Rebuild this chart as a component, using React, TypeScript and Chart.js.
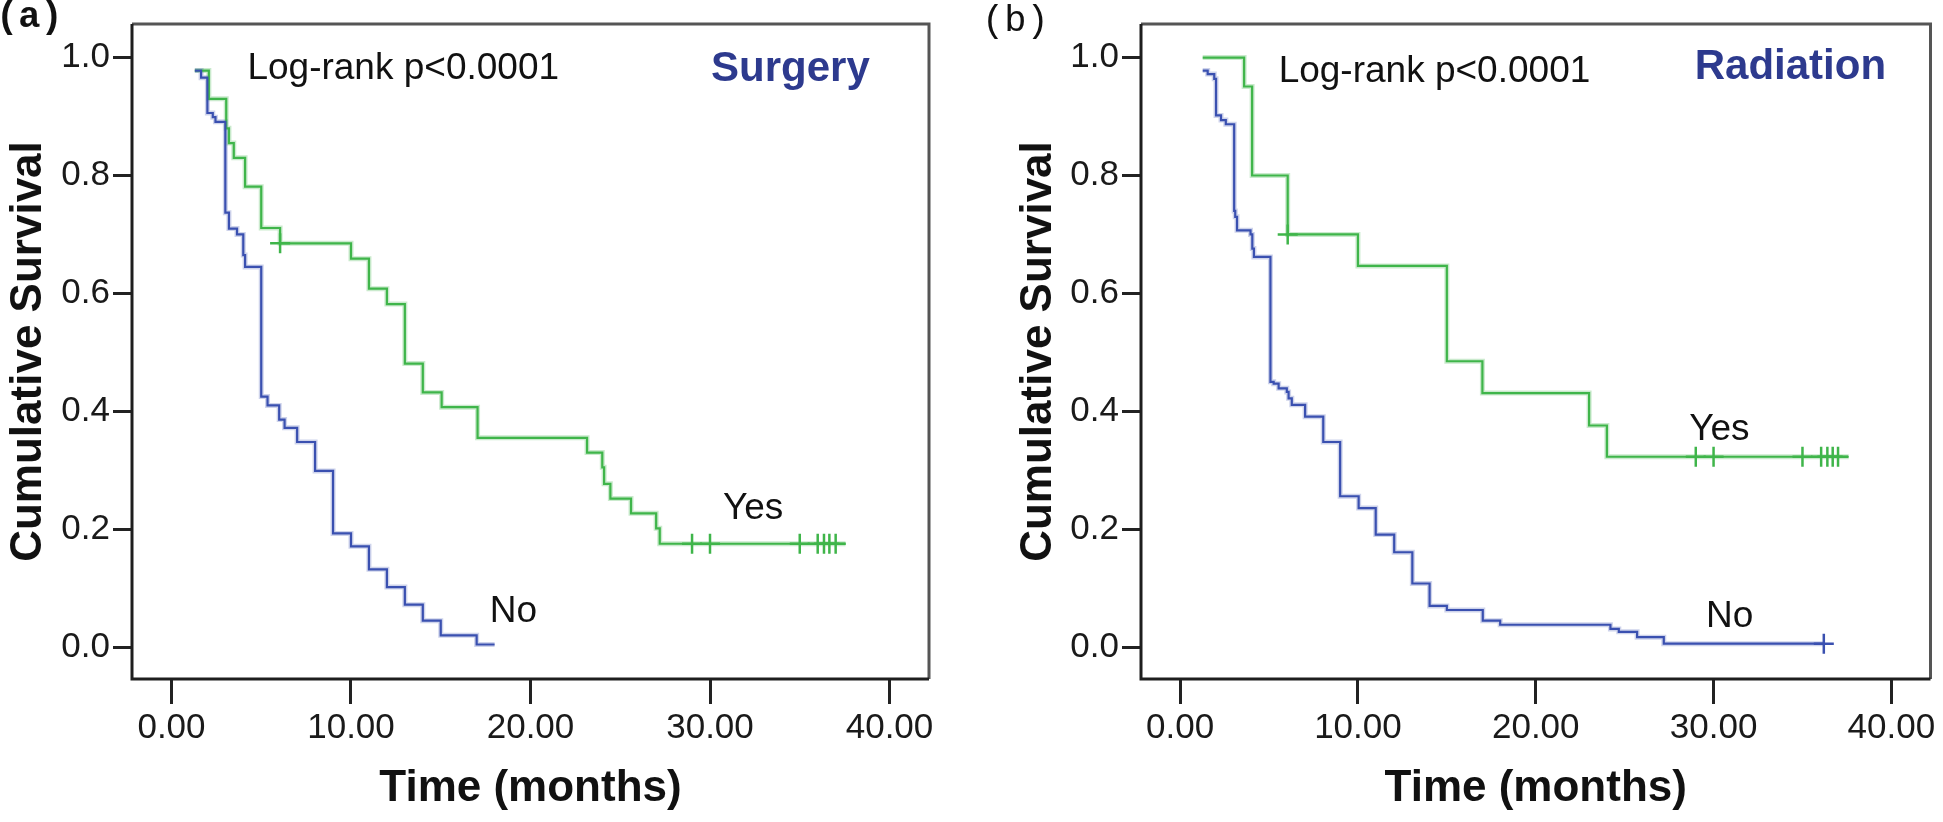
import React, { useEffect, useRef } from 'react';
import { Chart, registerables } from 'chart.js';

Chart.register(...registerables);

// ---------- data ----------
const X_TICKS = [0, 10, 20, 30, 40];
const Y_TICKS = [0, 0.2, 0.4, 0.6, 0.8, 1.0];

// Panel (a) Surgery
const surgeryNoTime = [1.3, 1.65, 2.0, 2.3, 2.45, 3.0, 3.2, 3.65, 4.0, 4.1, 5.0, 5.35, 6.0, 6.3, 7, 8, 9, 10, 11, 12, 13, 14, 15, 17, 18];
const surgeryNoSurv = [0.978, 0.966, 0.906, 0.899, 0.891, 0.737, 0.71, 0.70, 0.665, 0.645, 0.425, 0.41, 0.386, 0.372, 0.348, 0.299, 0.193, 0.171, 0.132, 0.102, 0.072, 0.045, 0.020, 0.0045, 0.0045];
const surgeryNoCensor: number[] = [];
const surgeryYesTime = [1.3, 2.08, 3.05, 3.2, 3.47, 4.1, 5.0, 6.05, 10.0, 11.0, 12.0, 13.0, 14.0, 15.05, 17.05, 23.15, 24.0, 24.1, 24.45, 25.6, 27.0, 27.2, 37.55];
const surgeryYesSurv = [0.978, 0.930, 0.880, 0.855, 0.83, 0.781, 0.711, 0.685, 0.659, 0.608, 0.582, 0.481, 0.432, 0.407, 0.355, 0.33, 0.305, 0.277, 0.252, 0.227, 0.2015, 0.1754, 0.1754];
const surgeryYesCensor = [6.05, 29.0, 30.0, 35.0, 36.0, 36.35, 36.65, 37.0];

// Panel (b) Radiation
const radiationNoTime = [1.27, 1.55, 1.92, 2.02, 2.3, 2.57, 3.04, 3.1, 3.2, 3.96, 4.06, 4.15, 5.08, 5.26, 5.54, 6.0, 6.1, 6.28, 7.03, 8.05, 9.0, 10.04, 11.0, 12.04, 13.06, 14.03, 15.0, 17.02, 18.0, 24.2, 24.67, 25.7, 27.2, 36.2];
const radiationNoSurv = [0.978, 0.972, 0.964, 0.902, 0.894, 0.887, 0.74, 0.73, 0.707, 0.70, 0.676, 0.662, 0.45, 0.447, 0.439, 0.433, 0.422, 0.411, 0.391, 0.348, 0.256, 0.236, 0.191, 0.161, 0.108, 0.070, 0.063, 0.045, 0.038, 0.031, 0.026, 0.017, 0.006, 0.006];
const radiationNoCensor = [36.2];
const radiationYesTime = [1.27, 3.6, 4.05, 6.05, 10.0, 15.0, 17.0, 23.0, 24.0, 37.6];
const radiationYesSurv = [1.0, 0.951, 0.80, 0.70, 0.6466, 0.485, 0.431, 0.376, 0.323, 0.323];
const radiationYesCensor = [6.05, 29.0, 30.0, 35.0, 36.05, 36.4, 36.7, 37.0];

// ---------- style ----------
const GREEN = '#3fb54a';
const GREEN_HALO = 'rgba(63,181,74,0.28)';
const BLUE = '#3a50b0';
const BLUE_HALO = 'rgba(58,80,176,0.25)';
const TITLE_BLUE = '#2d3a8e';
const SANS = "'Liberation Sans', Arial, Helvetica, sans-serif";
const TICK_FAMILY = "'Liberation Sans Narrow', 'Arial Narrow', 'Liberation Sans', Arial, sans-serif";
const MONO = "'Liberation Mono', 'Courier New', monospace";
const H = 822;

function survivalAt(times: number[], surv: number[], t: number) {
  let s = surv[0];
  for (let i = 0; i < times.length; i++) if (times[i] <= t + 1e-9) s = surv[i];
  return s;
}

type Txt = { text: string; x: number; y: number; font: string; color: string; align: CanvasTextAlign };

type Spec = {
  noTime: number[]; noSurv: number[]; noCensor: number[];
  yesTime: number[]; yesSurv: number[]; yesCensor: number[];
  yAxisW: number; padRight: number; yTitlePad: number;
  panelLabel: string; panelFont: string; panelX: number; panelY: number;
  texts: Txt[];
};

const specA: Spec = {
  noTime: surgeryNoTime, noSurv: surgeryNoSurv, noCensor: surgeryNoCensor,
  yesTime: surgeryYesTime, yesSurv: surgeryYesSurv, yesCensor: surgeryYesCensor,
  yAxisW: 132, padRight: 42, yTitlePad: 6.5,
  panelLabel: '(a)', panelFont: `bold 37px ${MONO}`, panelX: -4, panelY: 27,
  texts: [
    { text: 'Log-rank p<0.0001', x: 4.23, y: 0.963, font: `37px ${SANS}`, color: '#111', align: 'left' },
    { text: 'Surgery', x: 38.9, y: 0.961, font: `bold 42px ${SANS}`, color: TITLE_BLUE, align: 'right' },
    { text: 'Yes', x: 32.4, y: 0.218, font: `37px ${SANS}`, color: '#111', align: 'center' },
    { text: 'No', x: 19.05, y: 0.042, font: `37px ${SANS}`, color: '#111', align: 'center' },
  ],
};

const specB: Spec = {
  noTime: radiationNoTime, noSurv: radiationNoSurv, noCensor: radiationNoCensor,
  yesTime: radiationYesTime, yesSurv: radiationYesSurv, yesCensor: radiationYesCensor,
  yAxisW: 170, padRight: 5, yTitlePad: 45.5,
  panelLabel: '(b)', panelFont: `37px ${MONO}`, panelX: 11, panelY: 31,
  texts: [
    { text: 'Log-rank p<0.0001', x: 5.54, y: 0.958, font: `37px ${SANS}`, color: '#111', align: 'left' },
    { text: 'Radiation', x: 39.7, y: 0.963, font: `bold 42px ${SANS}`, color: TITLE_BLUE, align: 'right' },
    { text: 'Yes', x: 30.33, y: 0.352, font: `37px ${SANS}`, color: '#111', align: 'center' },
    { text: 'No', x: 30.9, y: 0.0335, font: `37px ${SANS}`, color: '#111', align: 'center' },
  ],
};

function makeConfig(p: Spec): any {
  const toXY = (ts: number[], ss: number[]) => ts.map((t, i) => ({ x: t, y: ss[i] }));
  const censorPts = (ts: number[], ss: number[], cs: number[]) => cs.map((t) => ({ x: t, y: survivalAt(ts, ss, t) }));
  const lineDs = (data: any[], color: string, width: number, order: number) => ({
    data, borderColor: color, backgroundColor: color, borderWidth: width, stepped: true,
    pointRadius: 0, fill: false, order,
  });
  const censorDs = (data: any[], color: string) => ({
    data, borderColor: color, backgroundColor: color, showLine: false, pointStyle: 'cross',
    pointRadius: 10, pointBorderWidth: 2.5, order: 1,
  });

  const boxPlugin = {
    id: 'boxAndText',
    beforeDatasetsDraw(chart: any) {
      const { ctx, chartArea: a } = chart;
      ctx.save();
      ctx.lineWidth = 3;
      ctx.strokeStyle = '#555';
      ctx.beginPath();
      ctx.moveTo(a.left, a.top); ctx.lineTo(a.right, a.top); ctx.lineTo(a.right, a.bottom);
      ctx.stroke();
      ctx.strokeStyle = '#1e1e1e';
      ctx.beginPath();
      ctx.moveTo(a.left, a.top); ctx.lineTo(a.left, a.bottom); ctx.lineTo(a.right, a.bottom);
      ctx.stroke();
      ctx.restore();
    },
    afterDraw(chart: any) {
      const { ctx } = chart;
      const xs = chart.scales.x, ys = chart.scales.y;
      ctx.save();
      ctx.textBaseline = 'alphabetic';
      p.texts.forEach((t) => {
        ctx.font = t.font; ctx.fillStyle = t.color; ctx.textAlign = t.align;
        ctx.fillText(t.text, xs.getPixelForValue(t.x), ys.getPixelForValue(t.y));
      });
      ctx.font = p.panelFont; ctx.fillStyle = '#111'; ctx.textAlign = 'left';
      ctx.fillText(p.panelLabel, p.panelX, p.panelY);
      ctx.restore();
    },
  };

  const noXY = toXY(p.noTime, p.noSurv);
  const yesXY = toXY(p.yesTime, p.yesSurv);

  return {
    type: 'line',
    data: {
      datasets: [
        lineDs(noXY, BLUE_HALO, 5, 4),
        lineDs(yesXY, GREEN_HALO, 5, 4),
        lineDs(noXY, BLUE, 2.2, 2),
        lineDs(yesXY, GREEN, 2.2, 2),
        censorDs(censorPts(p.noTime, p.noSurv, p.noCensor), BLUE),
        censorDs(censorPts(p.yesTime, p.yesSurv, p.yesCensor), GREEN),
      ],
    },
    options: {
      responsive: false,
      animation: false,
      layout: { padding: { top: 16, right: p.padRight, left: 0, bottom: 0 } },
      plugins: { legend: { display: false }, tooltip: { enabled: false } },
      scales: {
        x: {
          type: 'linear', min: -2.2, max: 42.2,
          afterFit: (s: any) => { s.height = 143; },
          afterBuildTicks: (s: any) => { s.ticks = X_TICKS.map((v) => ({ value: v })); },
          grid: { drawOnChartArea: false, drawTicks: true, tickLength: 25, color: '#222', lineWidth: 3 },
          border: { display: false },
          ticks: {
            callback: (v: any) => Number(v).toFixed(2), color: '#1a1a1a', padding: 3,
            maxRotation: 0, autoSkip: false, font: { family: TICK_FAMILY, size: 35 },
          },
          title: {
            display: true, text: 'Time (months)', color: '#111',
            font: { family: SANS, size: 44, weight: 'bold', lineHeight: 1 },
            padding: { top: 0, bottom: 11 },
          },
        },
        y: {
          type: 'linear', min: -0.054, max: 1.057,
          afterFit: (s: any) => { s.width = p.yAxisW; },
          afterBuildTicks: (s: any) => { s.ticks = Y_TICKS.map((v) => ({ value: v })); },
          grid: { drawOnChartArea: false, drawTicks: true, tickLength: 19, color: '#222', lineWidth: 3 },
          border: { display: false },
          ticks: {
            callback: (v: any) => Number(v).toFixed(1), color: '#1a1a1a', padding: 3,
            autoSkip: false, font: { family: TICK_FAMILY, size: 35 },
          },
          title: {
            display: true, text: 'Cumulative Survival', color: '#111',
            font: { family: SANS, size: 44, weight: 'bold', lineHeight: 1 },
            padding: { top: p.yTitlePad, bottom: 0 },
          },
        },
      },
    },
    plugins: [boxPlugin],
  };
}

function Panel({ spec, left, width }: { spec: Spec; left: number; width: number }) {
  const ref = useRef<HTMLCanvasElement>(null);
  useEffect(() => {
    const chart = new Chart(ref.current as HTMLCanvasElement, makeConfig(spec));
    return () => chart.destroy();
  }, [spec]);
  return (
    <canvas
      ref={ref}
      width={width}
      height={H}
      style={{ position: 'absolute', left, top: 0, width, height: H }}
    />
  );
}

export default function App() {
  return (
    <div style={{ position: 'fixed', left: 0, top: 0, width: 1943, height: H, background: '#fff', overflow: 'hidden' }}>
      <Panel spec={specA} left={0} width={971} />
      <Panel spec={specB} left={971} width={972} />
    </div>
  );
}
